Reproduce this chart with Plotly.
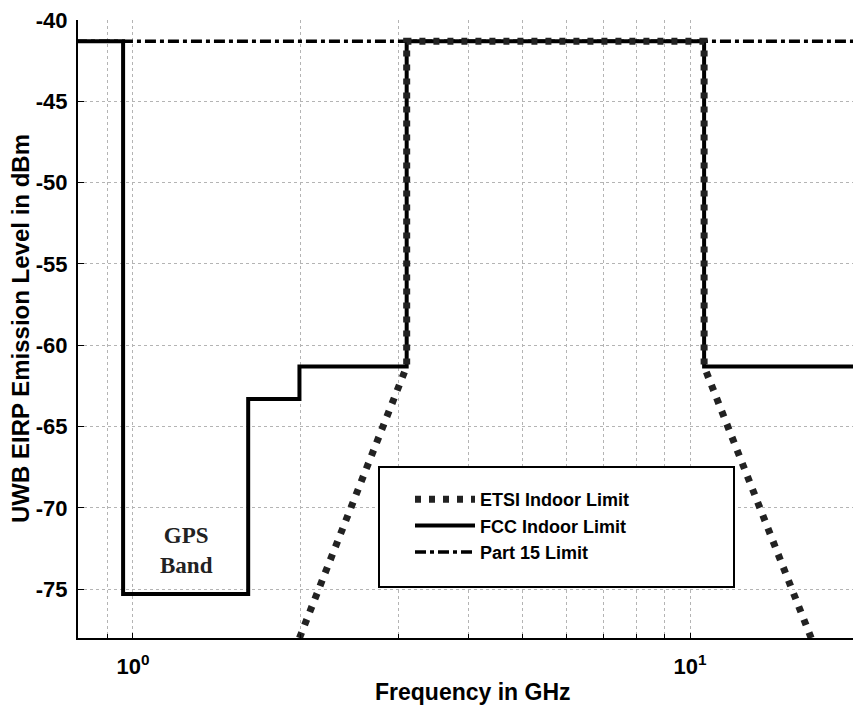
import math
import plotly.graph_objects as go

# ---- data (GHz, dBm) ----
fcc_freq = [0.79, 0.96, 0.96, 1.61, 1.61, 1.99, 1.99, 3.1, 3.1, 10.6, 10.6, 20.0]
fcc_level = [-41.3, -41.3, -75.3, -75.3, -63.3, -63.3, -61.3, -61.3, -41.3, -41.3, -61.3, -61.3]

etsi_freq = [1.99, 3.1, 3.1, 10.6, 10.6, 16.5]
etsi_level = [-78.0, -61.3, -41.3, -41.3, -61.3, -78.0]

part15_freq = [0.79, 20.0]
part15_level = [-41.3, -41.3]

y_ticks = [-40, -45, -50, -55, -60, -65, -70, -75]
y_ticktext = ["-40", "-45", "-50", "-55", "-60", "-65", "-70", "-75"]
x_ticks = [1, 10]
x_ticktext = ["10<sup>0</sup>", "10<sup>1</sup>"]
x_minor = [0.8, 0.9, 2, 3, 4, 5, 6, 7, 8, 9, 20]

FONT = "Arial, 'Liberation Sans', sans-serif"
GRID = "#b4b4b4"

fig = go.Figure()
fig.add_trace(go.Scatter(
    x=part15_freq, y=part15_level, mode="lines", name="Part 15 Limit",
    line=dict(color="black", width=3.5, dash="11px,4px,4px,4px"),
))
fig.add_trace(go.Scatter(
    x=fcc_freq, y=fcc_level, mode="lines", name="FCC Indoor Limit",
    line=dict(color="black", width=4),
))
fig.add_trace(go.Scatter(
    x=etsi_freq, y=etsi_level, mode="lines", name="ETSI Indoor Limit",
    line=dict(color="#222222", width=7, dash="6px,8px"),
))

L, R, T, B = 78, 853, 20, 638
W, H = R - L, B - T

def px(xp):
    return (xp - L) / W

def py(yp):
    return (B - yp) / H

fig.update_layout(
    width=853, height=707,
    margin=dict(l=L, r=0, t=T, b=707 - B, pad=0, autoexpand=False),
    paper_bgcolor="white", plot_bgcolor="white",
    showlegend=True,
    legend=dict(
        x=px(410), y=py(481), xanchor="left", yanchor="top",
        bgcolor="rgba(0,0,0,0)", borderwidth=0,
        traceorder="reversed",
        font=dict(family=FONT, size=18, color="black", weight="bold"),
        itemwidth=60, tracegroupgap=0,
    ),
    xaxis=dict(
        type="log", automargin=False,
        range=[-0.0987, 1.2926],
        tickvals=x_ticks, ticktext=x_ticktext,
        tickfont=dict(family=FONT, size=22, color="black", weight="bold"),
        showgrid=True, gridcolor=GRID, griddash="dot", gridwidth=1,
        minor=dict(tickvals=x_minor, showgrid=True, gridcolor=GRID,
                   griddash="dot", gridwidth=1, ticks="inside", ticklen=4,
                   tickcolor="black"),
        ticks="inside", ticklen=5, tickcolor="black",
        showline=True, linecolor="black", linewidth=2, mirror=False,
        zeroline=False, ticklabelstandoff=8,
    ),
    yaxis=dict(
        range=[-78, -40], automargin=False,
        tickvals=y_ticks, ticktext=y_ticktext,
        tickfont=dict(family=FONT, size=22, color="black", weight="bold"),
        showgrid=True, gridcolor=GRID, griddash="dot", gridwidth=1,
        ticks="inside", ticklen=6, tickcolor="black",
        showline=True, linecolor="black", linewidth=2, mirror=False,
        zeroline=False, ticklabelstandoff=4,
    ),
    shapes=[dict(
        type="rect", xref="paper", yref="paper",
        x0=px(379), x1=px(734), y0=py(587), y1=py(467),
        line=dict(color="black", width=2), fillcolor="white", layer="above",
    )],
    annotations=[
        dict(text="Frequency in GHz", xref="paper", yref="paper",
             x=px(473), y=py(692), xanchor="center", yanchor="middle",
             showarrow=False,
             font=dict(family=FONT, size=23, color="black", weight="bold")),
        dict(text="UWB EIRP Emission Level in dBm", xref="paper", yref="paper",
             x=px(20), y=py(329), xanchor="center", yanchor="middle",
             textangle=-90, showarrow=False,
             font=dict(family=FONT, size=24, color="black", weight="bold")),
        dict(text="GPS<br>Band", xref="x", yref="y",
             x=math.log10(1.25), y=-72.6, xanchor="center", yanchor="middle",
             showarrow=False,
             font=dict(family="'Liberation Serif', 'Times New Roman', serif",
                       size=23, color="#222222", weight="bold")),
    ],
)

fig.write_html(
    "out.html",
    config={"displayModeBar": False},
    post_script="document.body.style.margin='0';document.body.style.overflow='hidden';",
)
